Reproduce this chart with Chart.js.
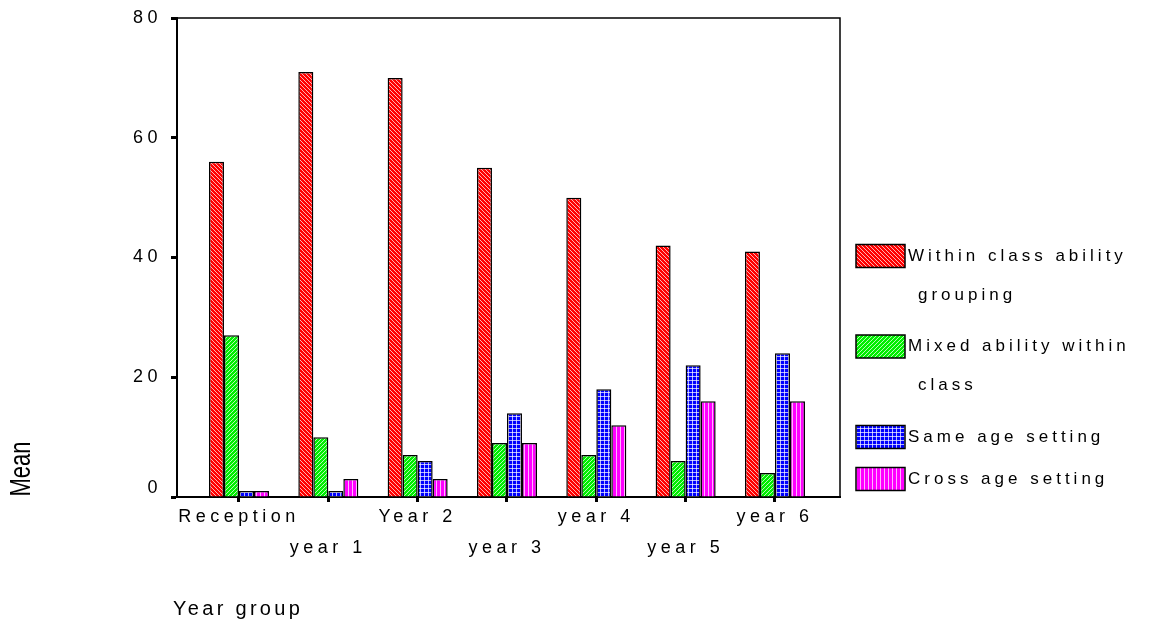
<!DOCTYPE html>
<html>
<head>
<meta charset="utf-8">
<script src="https://cdn.jsdelivr.net/npm/chart.js@4/dist/chart.umd.min.js"></script>
<style>
  body { margin: 0; background: #fff; }
  canvas { display: block; }
</style>
</head>
<body>
<canvas id="chart" width="1153" height="629"></canvas>
<script>
// year groups on the x axis
const years = ['Reception', 'year 1', 'Year 2', 'year 3', 'year 4', 'year 5', 'year 6'];
// series (legend text split the way the legend shows it)
const seriesNames = ['Within class ability grouping', 'Mixed ability within class', 'Same age setting', 'Cross age setting'];
const legendLines = [['Within class ability', 'grouping'], ['Mixed ability within', 'class'], ['Same age setting'], ['Cross age setting']];
// mean values
const withinClass = [56, 71, 70, 55, 50, 42, 41];
const mixedAbility = [27, 10, 7, 9, 7, 6, 4];
const sameAge = [1, 1, 6, 14, 18, 22, 24];
const crossAge = [1, 3, 3, 9, 12, 16, 16];
const yTicks = [0, 20, 40, 60, 80];

// little hatch patterns like the spss fills
function hatch(base, kind) {
  const c = document.createElement('canvas');
  c.width = 4; c.height = 4;
  const g = c.getContext('2d');
  g.fillStyle = base;
  g.fillRect(0, 0, 4, 4);
  g.fillStyle = 'rgba(255,255,255,0.7)';
  for (let i = 0; i < 4; i++) {
    if (kind == 'back') g.fillRect(i, i, 1, 1);
    if (kind == 'fwd') g.fillRect(3 - i, i, 1, 1);
    if (kind == 'grid') { g.fillRect(0, i, 1, 1); g.fillRect(i, 0, 1, 1); }
    if (kind == 'vert') g.fillRect(0, i, 1, 1);
  }
  return g.createPattern(c, 'repeat');
}
const fills = [hatch('#ff0000', 'back'), hatch('#00ee00', 'fwd'), hatch('#0000ff', 'grid'), hatch('#ff00ff', 'vert')];
const seriesData = [withinClass, mixedAbility, sameAge, crossAge];

const font = 'Liberation Sans, Arial, sans-serif';

const extras = {
  id: 'extras',
  beforeDraw(chart) {
    chart.ctx.letterSpacing = '4.5px';
  },
  afterDraw(chart) {
    const ctx = chart.ctx;
    const a = chart.chartArea;
    ctx.save();
    // top and right of the frame
    ctx.strokeStyle = '#000';
    ctx.lineWidth = 1.5;
    ctx.beginPath();
    ctx.moveTo(a.left, a.top);
    ctx.lineTo(a.right, a.top);
    ctx.lineTo(a.right, a.bottom);
    ctx.stroke();

    // legend
    ctx.fillStyle = '#000';
    ctx.textBaseline = 'middle';
    ctx.textAlign = 'left';
    ctx.font = '17px ' + font;
    ctx.letterSpacing = '4px';
    let y = 256;
    chart.data.datasets.forEach((ds, i) => {
      ctx.fillStyle = ds.backgroundColor;
      ctx.fillRect(856, y - 11.5, 49, 23);
      ctx.lineWidth = 1.5;
      ctx.strokeRect(856, y - 11.5, 49, 23);
      ctx.fillStyle = '#000';
      legendLines[i].forEach((t, k) => {
        ctx.fillText(t, k == 0 ? 908 : 918, y + k * 39);
      });
      y += 42 + (legendLines[i].length - 1) * 48.5;
    });

    // axis titles
    ctx.font = '20px ' + font;
    ctx.letterSpacing = '3.3px';
    ctx.fillText('Year group', 173, 609);
    ctx.save();
    ctx.translate(22, 469);
    ctx.rotate(-Math.PI / 2);
    ctx.scale(1, 1.3);
    ctx.textAlign = 'center';
    ctx.font = '22px ' + font;
    ctx.letterSpacing = '0px';
    ctx.fillText('Mean', 0, 0);
    ctx.restore();
    ctx.restore();
  }
};

new Chart(document.getElementById('chart'), {
  type: 'bar',
  data: {
    datasets: seriesNames.map((name, i) => ({
      label: name,
      data: seriesData[i].map((v, j) => ({ x: j, y: v })),
      backgroundColor: fills[i],
      borderColor: '#000',
      borderWidth: 1.5,
      categoryPercentage: 0.672,
      barPercentage: 1
    }))
  },
  options: {
    responsive: false,
    animation: false,
    devicePixelRatio: 1,
    layout: { padding: { left: 0, top: 17, right: 313, bottom: 0 } },
    plugins: { legend: { display: false }, tooltip: { enabled: false } },
    scales: {
      x: {
        type: 'linear',
        offset: false,
        min: -0.694,
        max: 6.728,
        afterBuildTicks: s => { s.ticks = years.map((_, i) => ({ value: i })); },
        afterFit: s => { s.height = 132; },
        grid: { offset: false, drawOnChartArea: false, drawTicks: true, tickLength: 5, tickWidth: 3, color: '#000' },
        border: { display: true, color: '#000', width: 2 },
        ticks: {
          autoSkip: false,
          maxRotation: 0,
          padding: 0,
          color: '#000',
          font: { family: font, size: 18, lineHeight: 1.72 },
          callback: v => (v % 2 == 0 ? [years[v], ''] : ['', years[v]])
        }
      },
      y: {
        min: 0,
        max: 80,
        afterBuildTicks: s => { s.ticks = yTicks.map(v => ({ value: v })); },
        afterFit: s => { s.width = 177; },
        grid: { drawOnChartArea: false, drawTicks: true, tickLength: 6, tickWidth: 3, color: '#000' },
        border: { display: true, color: '#000', width: 2 },
        ticks: {
          padding: 9,
          color: '#000',
          font: { family: font, size: 18, lineHeight: 1 },
          // the zero label sits a little above the axis in the original
          callback: v => (v == 0 ? ['0', ''] : String(v))
        }
      }
    }
  },
  plugins: [extras]
});
</script>
</body>
</html>
